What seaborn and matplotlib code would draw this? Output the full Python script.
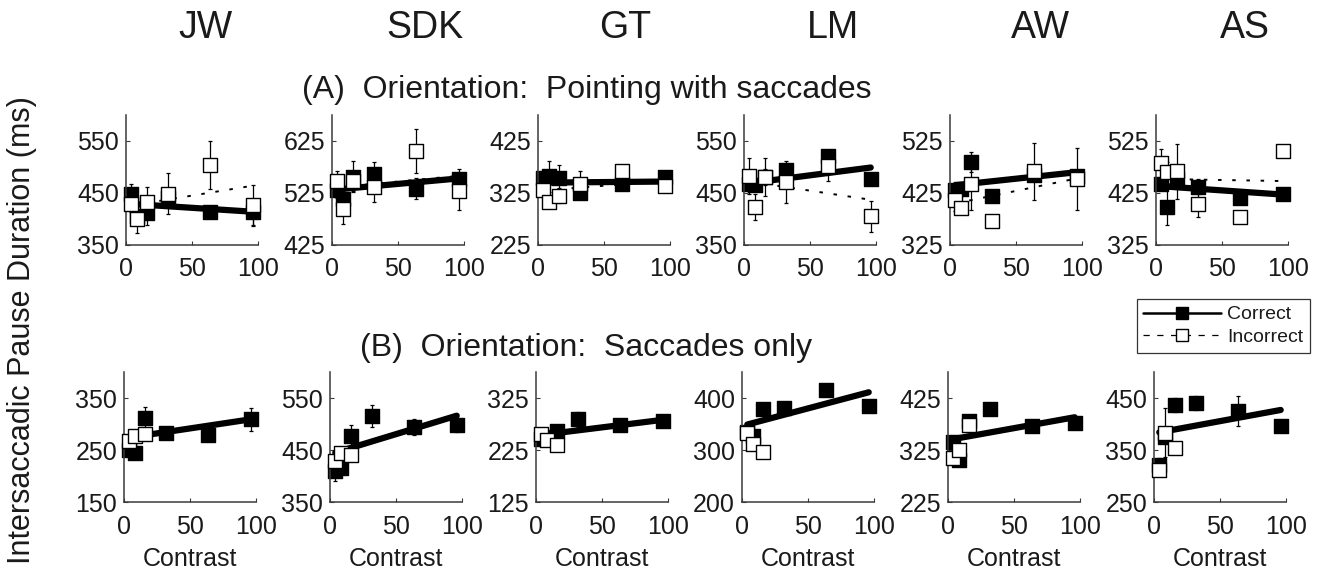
import numpy as np
import pandas as pd
import matplotlib
matplotlib.use("Agg")
import matplotlib.pyplot as plt
from matplotlib.lines import Line2D
import seaborn as sns

# ---------------- data ----------------
subjects = ["JW", "SDK", "GT", "LM", "AW", "AS"]
contrast = [4, 8, 16, 32, 64, 96]
contrast_low = [4, 8, 16]
fit_range = [4, 96]

ymin_A = [350, 425, 225, 350, 325, 325]
ymin_B = [150, 350, 125, 200, 225, 250]

# (A) Pointing with saccades
A_correct = [[449, 405, 411, 440, 413, 413],
             [531, 513, 556, 562, 533, 552],
             [354, 357, 354, 325, 343, 355],
             [468, 466, 481, 494, 521, 477],
             [430, 433, 484, 420, 460, 458],
             [442, 399, 452, 437, 416, 423]]
A_correct_err = [[18, 10, 22, 10, 12, 25],
                 [15, 12, 30, 22, 20, 20],
                 [10, 30, 25, 10, 8, 6],
                 [10, 12, 15, 10, 8, 10],
                 [12, 12, 19, 10, 10, 10],
                 [12, 36, 15, 14, 12, 10]]
A_incorrect = [[428, 400, 432, 449, 504, 426],
               [549, 495, 548, 537, 606, 528],
               [330, 307, 320, 342, 367, 339],
               [483, 423, 481, 471, 502, 405],
               [411, 396, 442, 371, 467, 452],
               [482, 465, 467, 403, 379, 505]]
A_incorrect_err = [[15, 27, 30, 39, 46, 40],
                   [18, 30, 20, 30, 42, 36],
                   [12, 10, 15, 26, 10, 12],
                   [35, 25, 37, 41, 28, 30],
                   [20, 12, 50, 8, 55, 60],
                   [28, 20, 53, 24, 5, 5]]
A_fit_correct = [[429, 414], [532, 553], [345, 347],
                 [469, 499], [440, 465], [438, 422]]
A_fit_incorrect = [[426, 464], [536, 558], [330, 348],
                   [472, 437], [405, 453], [452, 448]]

# (B) Saccades only
B_correct = [[250, 245, 311, 283, 279, 309],
             [410, 416, 477, 515, 494, 498],
             [247, 250, 262, 284, 274, 281],
             [335, 326, 378, 381, 415, 385],
             [341, 306, 381, 403, 371, 376],
             [322, 375, 437, 440, 425, 397]]
B_correct_err = [[6, 6, 22, 8, 6, 22],
                 [19, 10, 21, 21, 15, 14],
                 [8, 8, 10, 15, 8, 6],
                 [8, 8, 10, 10, 10, 8],
                 [10, 8, 10, 10, 8, 8],
                 [12, 8, 13, 13, 28, 10]]
B_incorrect = [[268, 277, 281],
               [429, 444, 440],
               [255, 245, 234],
               [333, 311, 297],
               [309, 325, 373],
               [312, 383, 354]]
B_incorrect_err = [[5, 5, 5],
                   [5, 5, 5],
                   [10, 10, 5],
                   [5, 5, 5],
                   [8, 8, 8],
                   [10, 47, 5]]
B_fit_correct = [[274, 309], [445, 516], [254, 283],
                 [349, 411], [346, 388], [384, 427]]

# ---------------- style ----------------
sns.set_theme(style="ticks")
plt.rcParams["font.family"] = ["Liberation Sans", "DejaVu Sans"]
TXT = "#1a1a1a"

W, H = 1327, 575
fig = plt.figure(figsize=(W / 100, H / 100), dpi=100)
lefts = [126, 332, 538, 744, 950, 1156]
axw = 132
rows = {"A": (115, 245), "B": (372, 502)}

MS = 100  # marker area (pt^2)


def style_axis(ax, ymin):
    ax.set_xlim(0, 100)
    ax.set_ylim(ymin, ymin + 250)
    ax.set_xticks([0, 50, 100])
    ax.set_yticks([ymin, ymin + 100, ymin + 200])
    for s in ["top", "right"]:
        ax.spines[s].set_visible(False)
    for s in ["left", "bottom"]:
        ax.spines[s].set_color("#3a3a3a")
        ax.spines[s].set_linewidth(1.1)
    ax.tick_params(axis="both", direction="in", length=3, width=0.8,
                   colors="#3a3a3a", labelsize=18, labelcolor=TXT)
    ax.tick_params(axis="x", pad=9)
    ax.tick_params(axis="y", pad=5)
    ax.set_xlabel("")
    ax.set_ylabel("")
    ax.patch.set_alpha(0)


def draw_points(ax, xs, ys, errs, filled, z):
    eb = ax.errorbar(xs, ys, yerr=errs, fmt="none", ecolor="black",
                     elinewidth=0.9, capsize=1.5, capthick=0.9, zorder=z)
    for art in eb.get_children():
        art.set_clip_on(False)
    df = pd.DataFrame({"x": xs, "y": ys})
    sns.scatterplot(data=df, x="x", y="y", ax=ax, marker="s", s=MS,
                    color="black" if filled else "white",
                    edgecolor="black", linewidth=1.0, zorder=z + 0.5,
                    legend=False, clip_on=False)


def draw_fit(ax, yy, dotted, z):
    df = pd.DataFrame({"x": fit_range, "y": yy})
    if dotted:
        sns.lineplot(data=df, x="x", y="y", ax=ax, color="black",
                     linewidth=1.4, dashes=False, zorder=z)
        ax.lines[-1].set_linestyle((0, (1.8, 5.5)))
    else:
        sns.lineplot(data=df, x="x", y="y", ax=ax, color="black",
                     linewidth=4.5, zorder=z)


for i, subj in enumerate(subjects):
    # Row A
    top, bot = rows["A"]
    ax = fig.add_axes([lefts[i] / W, 1 - bot / H, axw / W, (bot - top) / H])
    draw_points(ax, contrast, A_correct[i], A_correct_err[i], True, 2)
    draw_fit(ax, A_fit_correct[i], False, 3)
    draw_fit(ax, A_fit_incorrect[i], True, 3.2)
    draw_points(ax, contrast, A_incorrect[i], A_incorrect_err[i], False, 4)
    style_axis(ax, ymin_A[i])

    # Row B
    top, bot = rows["B"]
    ax = fig.add_axes([lefts[i] / W - 2 / W, 1 - bot / H, axw / W, (bot - top) / H])
    draw_points(ax, contrast, B_correct[i], B_correct_err[i], True, 2)
    draw_fit(ax, B_fit_correct[i], False, 3)
    draw_points(ax, contrast_low, B_incorrect[i], B_incorrect_err[i], False, 4)
    style_axis(ax, ymin_B[i])
    ax.set_xlabel("Contrast", fontsize=18, color=TXT, labelpad=6)

# subject names
name_x = [205, 425, 625, 833, 1040, 1245]
for subj, x in zip(subjects, name_x):
    fig.text(x / W, 1 - 28 / H, subj, ha="center", va="center",
             fontsize=27, color=TXT)

fig.text(587 / W, 1 - 90 / H, "(A)  Orientation:  Pointing with saccades",
         ha="center", va="center", fontsize=23, color=TXT)
fig.text(586 / W, 1 - 348 / H, "(B)  Orientation:  Saccades only",
         ha="center", va="center", fontsize=23, color=TXT)
fig.text(22 / W, 1 - 330 / H, "Intersaccadic Pause Duration (ms)",
         ha="center", va="center", rotation=90, fontsize=22, color=TXT)

# legend
handles = [
    Line2D([0], [0], color="black", lw=1.8, marker="s", markersize=9,
           markerfacecolor="black", markeredgecolor="black"),
    Line2D([0], [0], color="black", lw=0.9, linestyle=(0, (5, 6)),
           marker="s", markersize=9, markerfacecolor="white",
           markeredgecolor="black"),
]
leg = fig.legend(handles, ["Correct", "Incorrect"], loc="upper right",
                 bbox_to_anchor=(1310 / W, 1 - 299 / H), fontsize=14,
                 frameon=True, fancybox=False, handlelength=4.0,
                 borderpad=0.35, labelspacing=0.25, handletextpad=0.3,
                 borderaxespad=0)
leg.get_frame().set_edgecolor("black")
leg.get_frame().set_linewidth(0.9)
for t in leg.get_texts():
    t.set_color(TXT)

fig.savefig("out.png", dpi=100)
